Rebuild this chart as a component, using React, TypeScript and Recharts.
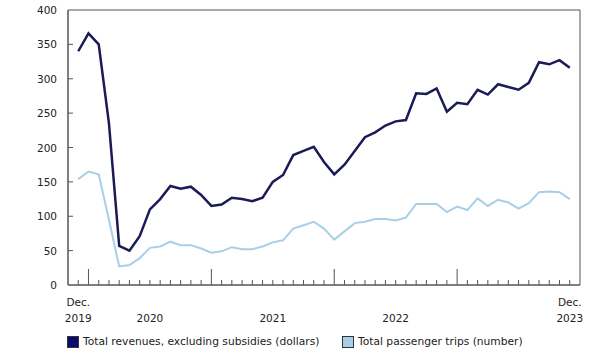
import React from 'react';
import {
  LineChart,
  Line,
  XAxis,
  YAxis,
  Legend,
  ReferenceArea,
} from 'recharts';

/* Monthly, Dec. 2019 to Dec. 2023 */
const months = [
  'Dec 2019',
  'Jan 2020', 'Feb 2020', 'Mar 2020', 'Apr 2020', 'May 2020', 'Jun 2020',
  'Jul 2020', 'Aug 2020', 'Sep 2020', 'Oct 2020', 'Nov 2020', 'Dec 2020',
  'Jan 2021', 'Feb 2021', 'Mar 2021', 'Apr 2021', 'May 2021', 'Jun 2021',
  'Jul 2021', 'Aug 2021', 'Sep 2021', 'Oct 2021', 'Nov 2021', 'Dec 2021',
  'Jan 2022', 'Feb 2022', 'Mar 2022', 'Apr 2022', 'May 2022', 'Jun 2022',
  'Jul 2022', 'Aug 2022', 'Sep 2022', 'Oct 2022', 'Nov 2022', 'Dec 2022',
  'Jan 2023', 'Feb 2023', 'Mar 2023', 'Apr 2023', 'May 2023', 'Jun 2023',
  'Jul 2023', 'Aug 2023', 'Sep 2023', 'Oct 2023', 'Nov 2023', 'Dec 2023',
];

const revenues = [
  340,
  366, 350, 235, 57, 50, 71, 110, 125, 144, 140, 143, 131,
  115, 117, 127, 125, 122, 127, 150, 160, 189, 195, 201, 179,
  161, 175, 195, 215, 222, 232, 238, 240, 279, 278, 286, 252,
  265, 263, 284, 277, 292, 288, 284, 294, 324, 321, 327, 316,
];

const trips = [
  154,
  165, 161, 95, 27, 29, 39, 54, 56, 63, 58, 58, 53,
  47, 49, 55, 52, 52, 56, 62, 65, 82, 87, 92, 82,
  66, 78, 90, 92, 96, 96, 94, 98, 118, 118, 118, 106,
  114, 109, 126, 115, 124, 120, 111, 119, 135, 136, 135, 125,
];

const yTicks = [0, 50, 100, 150, 200, 250, 300, 350, 400];
const majorTicks = [1, 13, 25, 37];
const xLabels: Record<number, string[]> = {
  0: ['Dec.', '2019'],
  7: ['2020'],
  19: ['2021'],
  31: ['2022'],
  48: ['Dec.', '2023'],
};

const REV_COLOR = '#1b1b57';
const TRIP_COLOR = '#a9cfe8';
const AXIS_COLOR = '#555';
const TEXT_COLOR = '#222';
const FONT = '"DejaVu Sans", Verdana, sans-serif';
const FS = 10.5;

const data = months.map((m, i) => ({
  idx: i,
  month: m,
  revenues: revenues[i],
  trips: trips[i],
}));

const XTick = (props: any) => {
  const { x, y, payload } = props;
  const v = payload.value as number;
  const len = majorTicks.includes(v) ? 16 : 5;
  const lines = xLabels[v];
  return (
    <g>
      <line x1={x} x2={x} y1={y} y2={y - len} stroke={AXIS_COLOR} strokeWidth={1} />
      {lines && lines.length === 2 && (
        <>
          <text x={x} y={y + 21} textAnchor="middle" fontSize={FS} fill={TEXT_COLOR} fontFamily={FONT}>
            {lines[0]}
          </text>
          <text x={x} y={y + 37} textAnchor="middle" fontSize={FS} fill={TEXT_COLOR} fontFamily={FONT}>
            {lines[1]}
          </text>
        </>
      )}
      {lines && lines.length === 1 && (
        <text x={x} y={y + 37} textAnchor="middle" fontSize={FS} fill={TEXT_COLOR} fontFamily={FONT}>
          {lines[0]}
        </text>
      )}
    </g>
  );
};

const YTick = (props: any) => {
  const { x, y, payload } = props;
  return (
    <g>
      {payload.value > 0 && payload.value < 400 && (
        <line x1={x} x2={x + 5} y1={y} y2={y} stroke={AXIS_COLOR} strokeWidth={1} />
      )}
      <text x={x - 11} y={y + 4} textAnchor="end" fontSize={FS} fill={TEXT_COLOR} fontFamily={FONT}>
        {payload.value}
      </text>
    </g>
  );
};

const LegendBox = () => (
  <div style={{ position: 'relative', height: 20, fontFamily: FONT, fontSize: 10.7, color: TEXT_COLOR }}>
    <span
      style={{
        position: 'absolute', left: 67, top: 3, width: 12, height: 12,
        background: '#0b0b6e', border: '1px solid #333', boxSizing: 'border-box',
      }}
    />
    <span style={{ position: 'absolute', left: 83, top: 2, whiteSpace: 'nowrap' }}>
      Total revenues, excluding subsidies (dollars)
    </span>
    <span
      style={{
        position: 'absolute', left: 342, top: 3, width: 12, height: 12,
        background: TRIP_COLOR, border: '1px solid #333', boxSizing: 'border-box',
      }}
    />
    <span style={{ position: 'absolute', left: 358, top: 2, whiteSpace: 'nowrap' }}>
      Total passenger trips (number)
    </span>
  </div>
);

export default function App() {
  return (
    <div style={{ position: 'absolute', top: 0, left: 0, background: '#fff' }}>
      <LineChart
        width={610}
        height={359}
        data={data}
        margin={{ top: 10, right: 30, bottom: 34, left: 8 }}
      >
        <XAxis
          dataKey="idx"
          type="number"
          domain={[-1, 49]}
          ticks={data.map((d) => d.idx)}
          interval={0}
          height={40}
          tickSize={0}
          tickMargin={0}
          tickLine={false}
          axisLine={{ stroke: AXIS_COLOR }}
          tick={<XTick />}
        />
        <YAxis
          domain={[0, 400]}
          ticks={yTicks}
          width={60}
          tickSize={0}
          tickMargin={0}
          tickLine={false}
          axisLine={{ stroke: AXIS_COLOR }}
          tick={<YTick />}
        />
        <ReferenceArea x1={-1} x2={49} y1={0} y2={400} fill="none" stroke={AXIS_COLOR} strokeWidth={1} />
        <Line
          type="linear"
          dataKey="trips"
          stroke={TRIP_COLOR}
          strokeWidth={2}
          dot={false}
          isAnimationActive={false}
        />
        <Line
          type="linear"
          dataKey="revenues"
          stroke={REV_COLOR}
          strokeWidth={2.5}
          dot={false}
          isAnimationActive={false}
        />
        <Legend
          verticalAlign="middle"
          align="center"
          layout="horizontal"
          wrapperStyle={{ top: 333, left: 0, width: 610 }}
          content={<LegendBox />}
        />
      </LineChart>
    </div>
  );
}
